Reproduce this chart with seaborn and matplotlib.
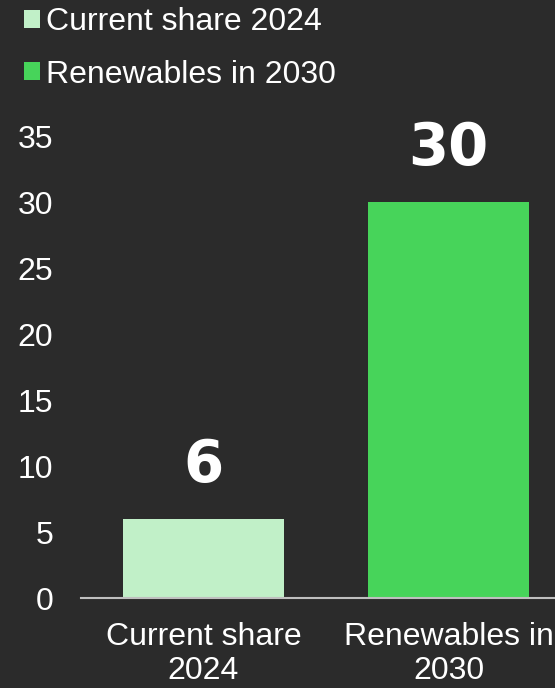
import matplotlib
matplotlib.use("Agg")
import matplotlib.pyplot as plt
from matplotlib.patches import Patch
import seaborn as sns
import pandas as pd

categories = ["Current share\n2024", "Renewables in\n2030"]
legend_labels = ["Current share 2024", "Renewables in 2030"]
values = [6, 30]
colors = ["#C1F0C8", "#47D45A"]
y_ticks = [0, 5, 10, 15, 20, 25, 30, 35]

BG = "#2B2B2B"
FG = "#FFFFFF"

sns.set_theme(style="dark")
plt.rcParams["font.family"] = ["Liberation Sans", "DejaVu Sans"]

df = pd.DataFrame({"category": categories, "value": values})

fig = plt.figure(figsize=(5.55, 6.88), dpi=100, facecolor=BG)
ax = fig.add_axes([0.1459, 0.1308, 0.883, 0.6715])
ax.set_facecolor(BG)

sns.barplot(data=df, x="category", y="value", hue="category",
            palette=colors, width=0.657, legend=False, ax=ax,
            saturation=1, edgecolor="none", linewidth=0)

ax.set_xlim(-0.5, 1.5)
ax.set_ylim(0, 35)
ax.set_yticks(y_ticks)
ax.set_xlabel("")
ax.set_ylabel("")
ax.grid(False)
for side in ("left", "right", "top"):
    ax.spines[side].set_visible(False)
ax.spines["bottom"].set_color("#BFBFBF")
ax.spines["bottom"].set_linewidth(1.5)
ax.tick_params(axis="y", length=0, pad=20, labelsize=23, labelcolor=FG)
ax.tick_params(axis="x", length=0, pad=17, labelsize=23, labelcolor=FG)

for i, v in enumerate(values):
    ax.annotate(str(v), xy=(i, v), xytext=(0, 26.6), textcoords="offset points",
                ha="center", va="baseline", fontsize=41.5, fontweight="bold",
                color=FG, family="DejaVu Sans")

handles = [Patch(facecolor=c, edgecolor="none") for c in colors]
fig.legend(handles, legend_labels, loc="upper left",
           bbox_to_anchor=(0.02, 1.008), frameon=False, fontsize=23,
           labelcolor=FG, handlelength=0.5, handleheight=0.5,
           handletextpad=0.2, labelspacing=0.7, borderaxespad=0)

fig.savefig("out.png", dpi=100, facecolor=BG)
